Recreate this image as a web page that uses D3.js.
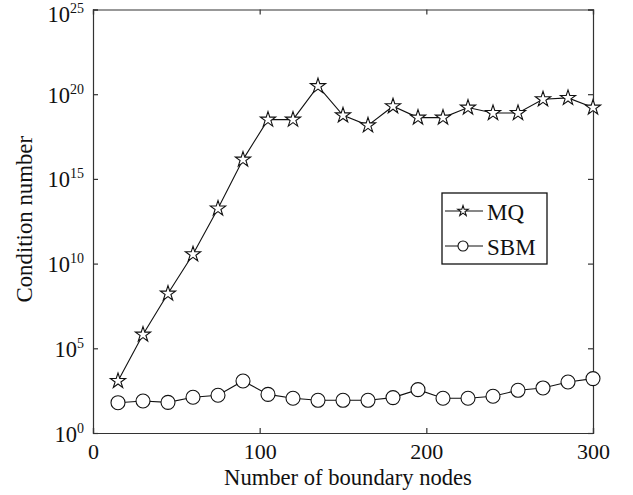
<!DOCTYPE html>
<html>
<head>
<meta charset="utf-8">
<script src="https://cdn.jsdelivr.net/npm/d3@7"></script>
<style>
  body { margin: 0; background: #fff; }
  svg text { font-family: "Liberation Serif", "Times New Roman", Times, "DejaVu Serif", serif; }
</style>
</head>
<body>
<div id="chart"></div>
<script>
// data (log10 of condition number)
const nodes = [15, 30, 45, 60, 75, 90, 105, 120, 135, 150, 165, 180, 195, 210, 225, 240, 255, 270, 285, 300];
const mqLog = [3.07, 5.81, 8.23, 10.55, 13.25, 16.14, 18.5, 18.5, 20.48, 18.75, 18.16, 19.29, 18.62, 18.62, 19.21, 18.89, 18.89, 19.7, 19.78, 19.21];
const sbmLog = [1.79, 1.89, 1.81, 2.11, 2.23, 3.07, 2.28, 2.05, 1.93, 1.93, 1.93, 2.09, 2.56, 2.05, 2.05, 2.17, 2.52, 2.66, 3.01, 3.21];
const xTicks = [0, 100, 200, 300];
const yExps = [0, 5, 10, 15, 20, 25];
const seriesNames = ["MQ", "SBM"];

const W = 633, H = 495;
const margin = {top: 9.5, right: 40, bottom: 62, left: 93};
const width = W - margin.left - margin.right;
const height = H - margin.top - margin.bottom;

const svg = d3.select("#chart").append("svg")
    .attr("width", W).attr("height", H);
const g = svg.append("g").attr("transform", `translate(${margin.left},${margin.top})`);

const x = d3.scaleLinear().domain([0, 300]).range([0, width]);
const y = d3.scaleLog().domain([1, 1e25]).range([height, 0]);

const axisColor = "#333";

// axes (inward ticks, mirrored on top/right)
const xAxis = g.append("g").attr("transform", `translate(0,${height})`)
    .call(d3.axisBottom(x).tickValues(xTicks).tickSize(-5).tickPadding(10));
g.append("g").call(d3.axisTop(x).tickValues(xTicks).tickSize(-5).tickFormat(""));

const yAxis = g.append("g")
    .call(d3.axisLeft(y).tickValues(yExps.map(e => Math.pow(10, e))).tickSize(-5).tickPadding(7).tickFormat(""));
g.append("g").attr("transform", `translate(${width},0)`)
    .call(d3.axisRight(y).tickValues(yExps.map(e => Math.pow(10, e))).tickSize(-5).tickFormat(""));

g.selectAll("g").attr("font-family", null);
g.selectAll(".domain").attr("stroke", axisColor).attr("stroke-width", 1.2);
g.selectAll(".tick line").attr("stroke", axisColor).attr("stroke-width", 1.2);
xAxis.selectAll("text").attr("font-size", 22).attr("fill", "#111");

// y labels as 10^n (top label nudged down so it stays inside the page)
yAxis.selectAll(".tick").each(function(d) {
    const e = Math.round(Math.log10(d));
    const t = d3.select(this).append("text")
        .attr("x", -9).attr("y", Math.max(8, 12 - y(d)))
        .attr("text-anchor", "end")
        .attr("fill", "#111");
    t.append("tspan").attr("font-size", 22.5).text("10");
    t.append("tspan").attr("font-size", 14).attr("dy", -9).text(e);
});

// axis titles
svg.append("text")
    .attr("x", margin.left + x(150) + 5).attr("y", 485)
    .attr("text-anchor", "middle").attr("font-size", 22.6).attr("fill", "#111")
    .text("Number of boundary nodes");
svg.append("text")
    .attr("transform", `translate(32,${margin.top + height / 2 - 2}) rotate(-90)`)
    .attr("text-anchor", "middle").attr("font-size", 22.8).attr("fill", "#111")
    .text("Condition number");

// series
const line = d3.line().x(d => x(d[0])).y(d => y(d[1]));
const mqPts = nodes.map((n, i) => [n, Math.pow(10, mqLog[i])]);
const sbmPts = nodes.map((n, i) => [n, Math.pow(10, sbmLog[i])]);

const starPath = d3.symbol(d3.symbolStar).size(72)();
const starSmall = d3.symbol(d3.symbolStar).size(34)();

[mqPts, sbmPts].forEach(pts => {
    g.append("path").datum(pts)
        .attr("fill", "none").attr("stroke", "#111").attr("stroke-width", 1.1)
        .attr("d", line);
});

g.selectAll(".mq").data(mqPts).enter().append("path")
    .attr("transform", d => `translate(${x(d[0])},${y(d[1])})`)
    .attr("d", starPath)
    .attr("fill", "#fff").attr("stroke", "#111").attr("stroke-width", 1.1);

g.selectAll(".sbm").data(sbmPts).enter().append("circle")
    .attr("cx", d => x(d[0])).attr("cy", d => y(d[1])).attr("r", 7)
    .attr("fill", "#fff").attr("stroke", "#111").attr("stroke-width", 1.1);

// legend
const lg = svg.append("g").attr("transform", "translate(442,193)");
lg.append("rect").attr("width", 105).attr("height", 71)
    .attr("fill", "#fff").attr("stroke", "#111").attr("stroke-width", 1.3);
seriesNames.forEach((name, i) => {
    const cy = 18 + i * 35;
    lg.append("line").attr("x1", 3).attr("x2", 41).attr("y1", cy).attr("y2", cy)
        .attr("stroke", "#111").attr("stroke-width", 1.1);
    if (name === "MQ") {
        lg.append("path").attr("transform", `translate(21,${cy})`).attr("d", starSmall)
            .attr("fill", "#fff").attr("stroke", "#111").attr("stroke-width", 1.1);
    } else {
        lg.append("circle").attr("cx", 21).attr("cy", cy).attr("r", 5)
            .attr("fill", "#fff").attr("stroke", "#111").attr("stroke-width", 1.1);
    }
    lg.append("text").attr("x", 45).attr("y", cy + 9)
        .attr("font-size", 23).attr("fill", "#111").text(name);
});
</script>
</body>
</html>
